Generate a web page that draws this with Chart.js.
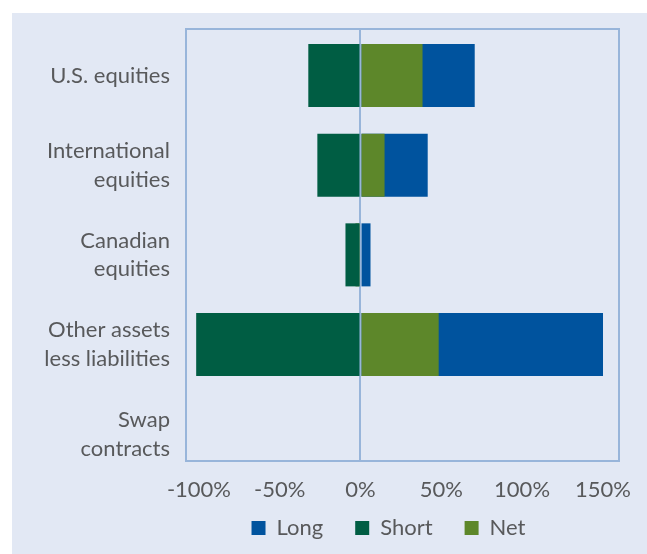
<!DOCTYPE html>
<html>
<head>
<meta charset="utf-8">
<script src="https://cdn.jsdelivr.net/npm/chart.js@4"></script>
<style>
  html, body { margin: 0; padding: 0; background: #fff; }
  #panel { position: absolute; left: 12px; top: 13px; width: 635px; height: 541px; background: #e2e8f4; }
  canvas { display: block; }
</style>
</head>
<body>
<div id="panel"><canvas id="chart" width="635" height="541"></canvas></div>
<script>
// categories and series (% of net assets)
const categories = [
  'U.S. equities',
  ['International', 'equities'],
  ['Canadian', 'equities'],
  ['Other assets', 'less liabilities'],
  ['Swap', 'contracts']
];
const longValues = [70.7, 41.6, 6.2, 150.1, 0];
const shortValues = [-32.3, -26.7, -9.3, -101.7, 0];
const netValues = [38.4, 14.9, -3.1, 48.4, 0];
const xTicks = [-100, -50, 0, 50, 100, 150];

const borderColor = '#98b5da';
const textColor = '#58595b';
const fontFamily = 'Lato, "Open Sans", sans-serif';

// box round the plot area
const plotBox = {
  id: 'plotBox',
  afterDatasetsDraw(chart) {
    const a = chart.chartArea;
    const ctx = chart.ctx;
    ctx.save();
    ctx.strokeStyle = borderColor;
    ctx.lineWidth = 2;
    ctx.strokeRect(a.left, a.top, a.right - a.left, a.bottom - a.top);
    ctx.restore();
  }
};

// legend a little up and to the right; categories spaced a bit wider
// than an even split, the last one squeezed at the bottom (as in the original)
const layoutTweak = {
  id: 'layoutTweak',
  afterLayout(chart) {
    const lg = chart.legend;
    lg.left = 146;
    lg.top -= 20;
    lg.bottom -= 20;
    const y = chart.scales.y;
    y._startValue = -0.519;
    y._valueRange = 4.818;
  }
};

const noPad = scale => {
  scale.paddingTop = 0;
  scale.paddingBottom = 0;
  scale.paddingLeft = 0;
  scale.paddingRight = 0;
};

const ctx = document.getElementById('chart').getContext('2d');
new Chart(ctx, {
  type: 'bar',
  data: {
    labels: categories,
    datasets: [
      { label: 'Long', data: longValues, backgroundColor: '#00539e', order: 2 },
      { label: 'Short', data: shortValues, backgroundColor: '#005d43', order: 0 },
      { label: 'Net', data: netValues, backgroundColor: '#5d872a', order: 1 }
    ]
  },
  options: {
    indexAxis: 'y',
    responsive: false,
    animation: false,
    layout: { padding: { top: 16, right: 28, left: 0, bottom: -15 } },
    categoryPercentage: 1,
    barPercentage: 0.703,
    scales: {
      x: {
        min: -108,
        max: 160,
        stacked: false,
        afterBuildTicks: scale => { scale.ticks = xTicks.map(v => ({ value: v })); },
        afterFit: scale => { scale.height = 44; noPad(scale); },
        grid: {
          drawTicks: false,
          lineWidth: 2,
          color: c => (c.tick && c.tick.value === 0) ? borderColor : 'transparent'
        },
        border: { display: false },
        ticks: {
          padding: 16,
          color: textColor,
          font: { family: fontFamily, size: 22 },
          callback: v => v + '%'
        }
      },
      y: {
        stacked: true,
        afterFit: scale => { scale.width = 174; noPad(scale); },
        grid: { display: false, drawTicks: false },
        border: { display: false },
        ticks: {
          padding: 16,
          color: textColor,
          font: { family: fontFamily, size: 22, lineHeight: 1.3 }
        }
      }
    },
    plugins: {
      legend: {
        position: 'bottom',
        labels: {
          boxWidth: 14,
          boxHeight: 14,
          padding: 32,
          color: textColor,
          font: { family: fontFamily, size: 22 },
          sort: (a, b) => a.datasetIndex - b.datasetIndex
        }
      },
      tooltip: { enabled: false }
    }
  },
  plugins: [plotBox, layoutTweak]
});
</script>
</body>
</html>
